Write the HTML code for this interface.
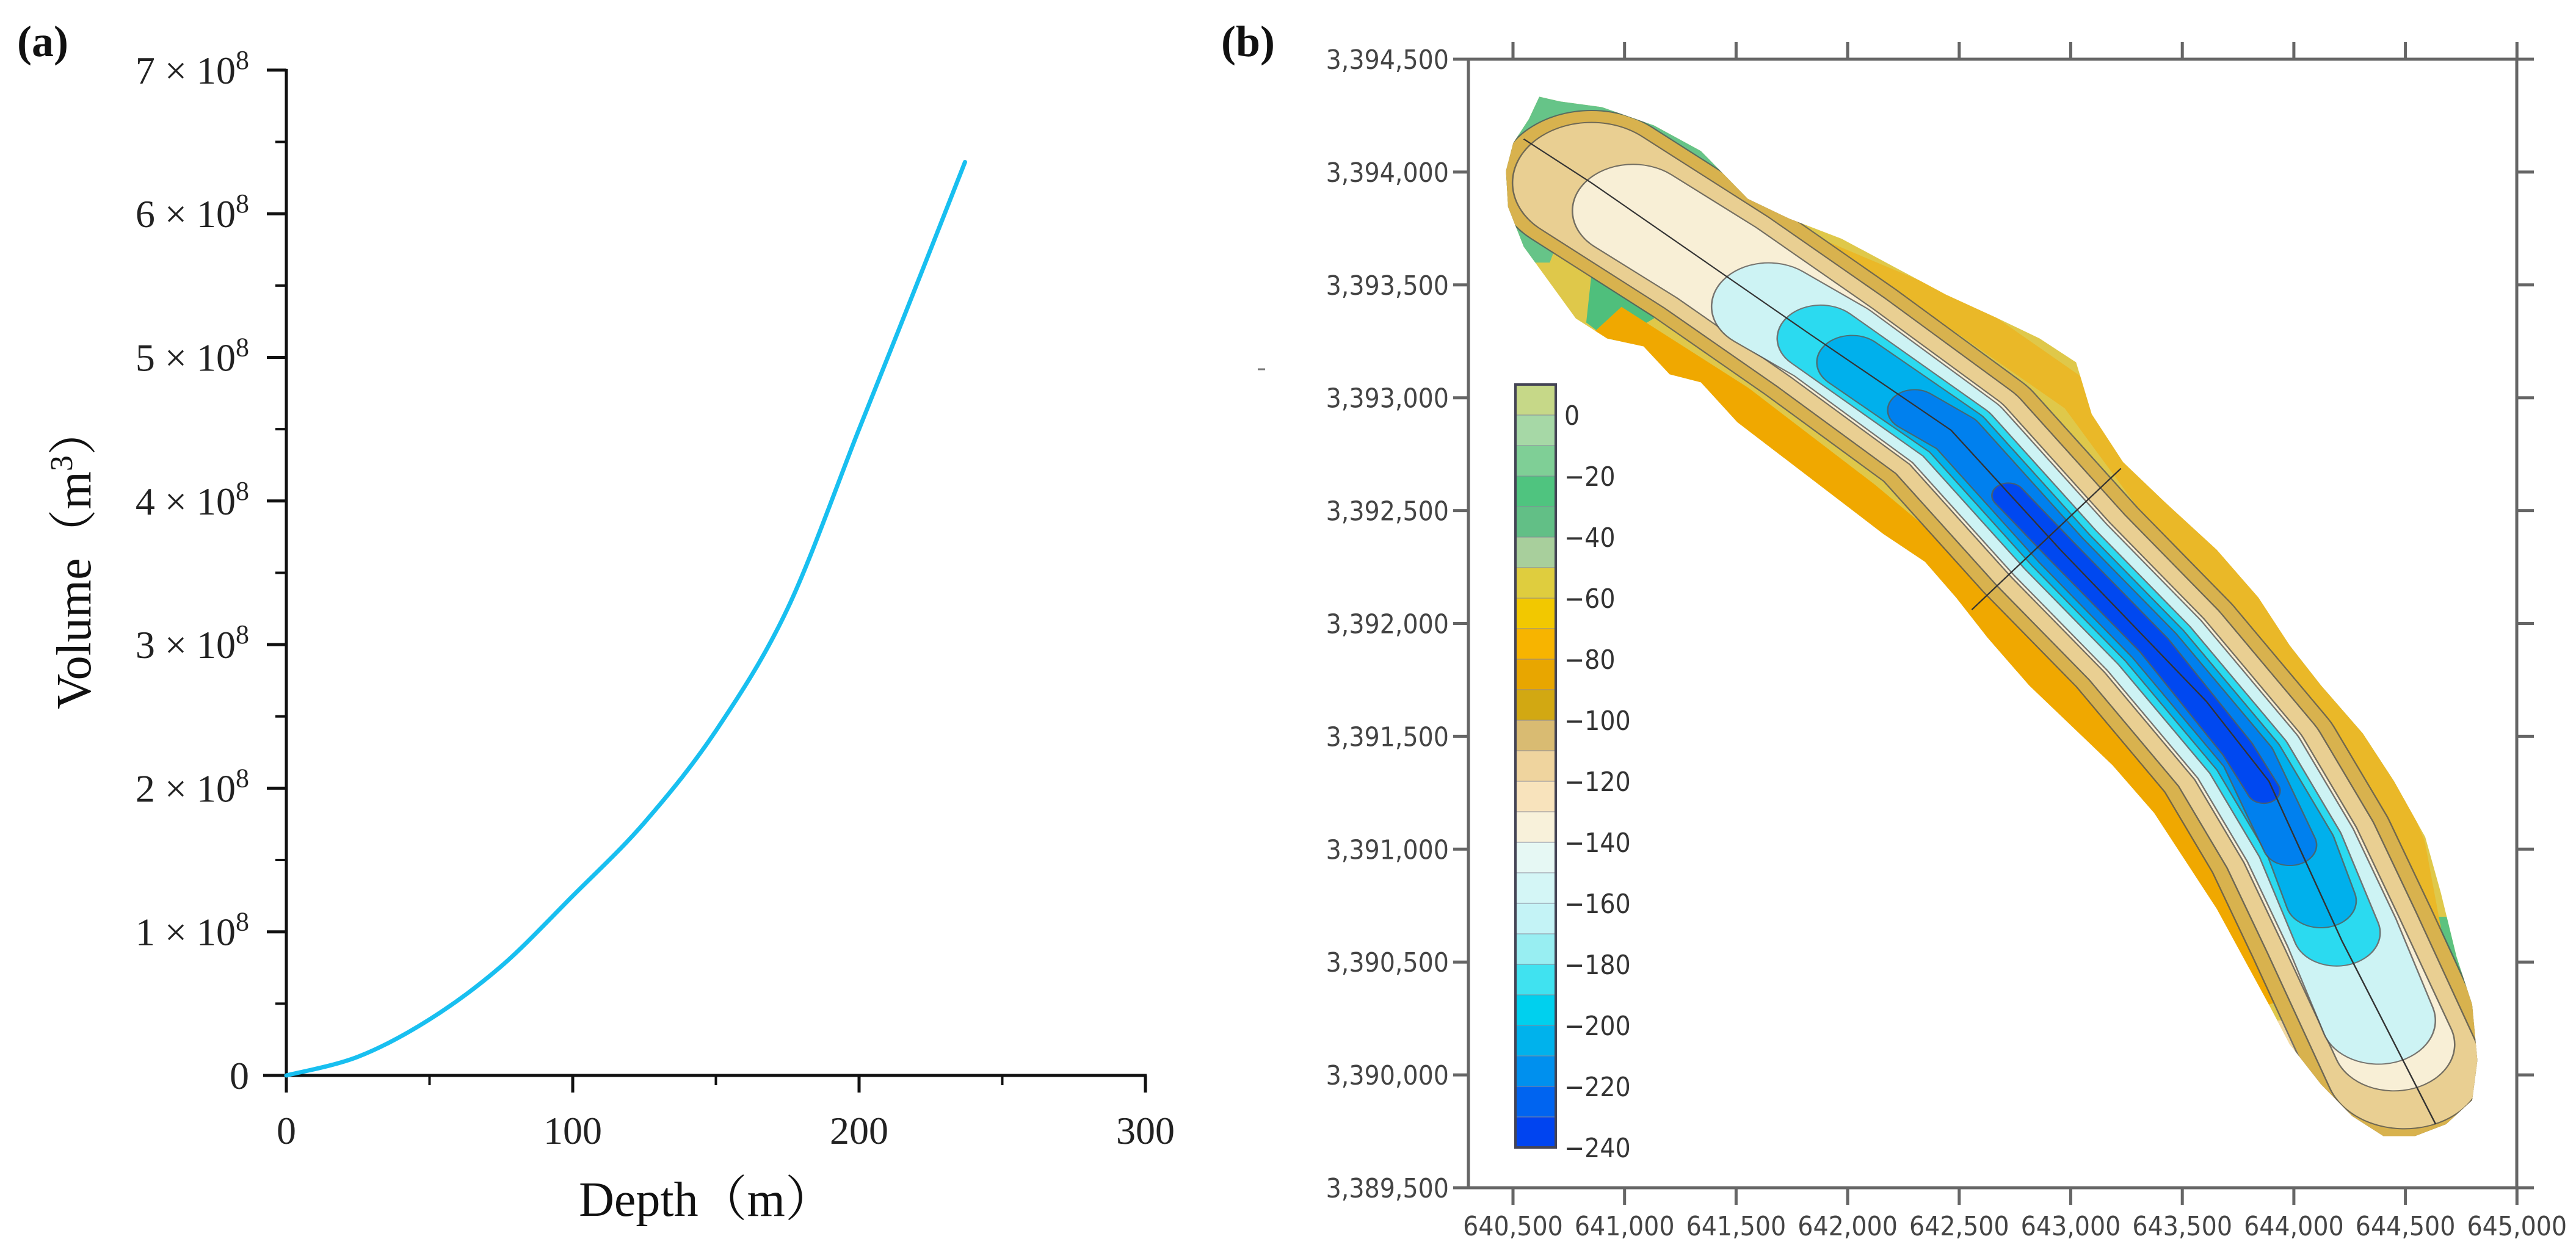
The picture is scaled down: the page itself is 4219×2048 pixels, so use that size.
<!DOCTYPE html>
<html><head><meta charset="utf-8">
<style>
html,body{margin:0;padding:0;background:#fff;}
svg{display:block;}
</style></head>
<body>
<svg id="fig" width="4219" height="2048" viewBox="0 0 4219 2048" xmlns="http://www.w3.org/2000/svg">
<g id="panelA"></g>
<g id="panelB"></g>
</svg>
<script>
// ---------- Panel (a) data ----------
const depthValues = [0, 25, 50, 75, 100, 125, 150, 175, 200, 219, 237];
const volumeValues = [0, 0.13, 0.39, 0.76, 1.25, 1.76, 2.4, 3.25, 4.5, 5.45, 6.36]; // x1e8
const xTickValues = [0, 100, 200, 300];
const yTickValues = [0, 1, 2, 3, 4, 5, 6, 7];

// ---------- Panel (b) data ----------
const northingTicks = [3394500, 3394000, 3393500, 3393000, 3392500, 3392000, 3391500, 3391000, 3390500, 3390000, 3389500];
const eastingTicks = [640500, 641000, 641500, 642000, 642500, 643000, 643500, 644000, 644500, 645000];
const legendLevels = [10, 0, -10, -20, -30, -40, -50, -60, -70, -80, -90, -100, -110, -120, -130, -140, -150, -160, -170, -180, -190, -200, -210, -220, -230];
const legendColors = ["#c6d888","#a6d8a6","#7fcf96","#4fc47f","#62bf86","#a8cf9c","#dfcd3e","#f2c800","#f7b400","#e8a600","#d2a812","#d9bb72","#efd49e","#f8e3bc","#f8f1da","#e6f8f4","#d4f6f6","#c4f3f6","#98eef2","#40e2f0","#00d0ee","#00b2ec","#0090ee","#0064f0","#0044f0"];
const legendLabels = [0, -20, -40, -60, -80, -100, -120, -140, -160, -180, -200, -220, -240];

const NS = "http://www.w3.org/2000/svg";
function mk(tag, attrs, parent, text) {
  const e = document.createElementNS(NS, tag);
  for (const k in attrs) e.setAttribute(k, attrs[k]);
  if (text !== undefined) e.textContent = text;
  parent.appendChild(e);
  return e;
}

// ---------- Panel (a) ----------
(function () {
  const g = document.getElementById('panelA');
  const X0 = 469, PXM = 4.69, Y0 = 1762, PXV = 235.3;
  const xs = d => X0 + d * PXM;
  const ys = v => Y0 - v * PXV;
  const lbl = mk('text', {x: 28, y: 92, 'font-family': 'Liberation Serif, serif', 'font-weight': 'bold', 'font-size': 72, fill: '#111'}, g, '(a)');
  
  
  const ya = mk('line', {x1: X0, y1: ys(7) - 2, x2: X0, y2: Y0 + 2, stroke: '#111', 'stroke-width': 5}, g);
  
  
  const xa = mk('line', {x1: X0 - 38, y1: Y0, x2: xs(300) + 2, y2: Y0, stroke: '#111', 'stroke-width': 5}, g);
  
  
  yTickValues.forEach(v => {
    const t = mk('line', {x1: X0 - 32, y1: ys(v), x2: X0, y2: ys(v), stroke: '#111', 'stroke-width': 5}, g);
    
    
    if (v < 7) {
      const m = mk('line', {x1: X0 - 18, y1: ys(v + 0.5), x2: X0, y2: ys(v + 0.5), stroke: '#111', 'stroke-width': 4}, g);
      
      
    }
    const tx = mk('text', {x: 408, y: ys(v) + 22, 'text-anchor': 'end', 'font-family': 'Liberation Serif, serif', 'font-size': 64, fill: '#222'}, g);
    
    
    if (v === 0) { tx.textContent = '0'; }
    else {
      tx.textContent = v + ' × 10';
      mk('tspan', {dy: -24, 'font-size': 44}, tx, '8');
    }
  });
  xTickValues.forEach(v => {
    const t = mk('line', {x1: xs(v), y1: Y0, x2: xs(v), y2: Y0 + 28, stroke: '#111', 'stroke-width': 5}, g);
    
    
    if (v < 300) {
      const m = mk('line', {x1: xs(v + 50), y1: Y0, x2: xs(v + 50), y2: Y0 + 16, stroke: '#111', 'stroke-width': 4}, g);
      
      
    }
    const tx = mk('text', {x: xs(v), y: Y0 + 112, 'text-anchor': 'middle', 'font-family': 'Liberation Serif, serif', 'font-size': 64, fill: '#222'}, g, String(v));
    
    
  });
  const xt = mk('text', {x: 1157, y: 1992, 'text-anchor': 'middle', 'font-family': 'Liberation Serif, "Noto Serif CJK SC", serif', 'font-size': 80, fill: '#111'}, g, 'Depth（m）');
  
  
  const yt = mk('text', {x: 0, y: 0, transform: 'translate(148,914) rotate(-90)', 'text-anchor': 'middle', 'font-family': 'Liberation Serif, "Noto Serif CJK SC", serif', 'font-size': 80, fill: '#111'}, g, 'Volume（m');
  mk('tspan', {dy: -30, 'font-size': 52}, yt, '3');
  mk('tspan', {dy: 30}, yt, '）');
  
  
  const P = depthValues.map((dv, i) => [xs(dv), ys(volumeValues[i])]);
  let d = 'M' + P[0][0].toFixed(1) + ',' + P[0][1].toFixed(1);
  for (let i = 0; i < P.length - 1; i++) {
    const p0 = P[Math.max(0, i - 1)], p1 = P[i], p2 = P[i + 1], p3 = P[Math.min(P.length - 1, i + 2)];
    const c1 = [p1[0] + (p2[0] - p0[0]) / 6, p1[1] + (p2[1] - p0[1]) / 6];
    const c2 = [p2[0] - (p3[0] - p1[0]) / 6, p2[1] - (p3[1] - p1[1]) / 6];
    d += `C${c1[0].toFixed(1)},${c1[1].toFixed(1)} ${c2[0].toFixed(1)},${c2[1].toFixed(1)} ${p2[0].toFixed(1)},${p2[1].toFixed(1)}`;
  }
  const line = mk('path', {d: d, fill: 'none', stroke: '#18bff0', 'stroke-width': 7, 'stroke-linejoin': 'round', 'stroke-linecap': 'round'}, g);
  
  
})();

// ---------- Panel (b) ----------
(function () {
  const g = document.getElementById('panelB');
  const L = 2405, R = 4122, T = 97, B = 1946;
  const xE = e => L + 73 + (e - 640500) / 500 * 182.7;
  const yN = n => T + (3394500 - n) / 500 * 184.9;
  const lb = mk('text', {x: 2000, y: 92, 'font-family': 'Liberation Serif, serif', 'font-weight': 'bold', 'font-size': 72, fill: '#111'}, g, '(b)');
  
  
  mk('line', {x1: 2060, y1: 605, x2: 2072, y2: 605, stroke: '#777', 'stroke-width': 3}, g);

  const m = mk('g', {transform: 'translate(1514,-1) scale(1.707,1.307)'}, g);
  
  
  const outer = "M590,122 L610,128 L650,135 L700,158 L745,190 L790,250 L830,275 L880,300 L930,335 L980,370 L1030,400 L1070,425 L1105,455 L1120,520 L1150,580 L1190,630 L1240,690 L1280,750 L1310,810 L1340,860 L1380,920 L1410,980 L1440,1050 L1455,1120 L1470,1200 L1485,1260 L1490,1330 L1485,1380 L1460,1410 L1430,1425 L1400,1425 L1370,1400 L1340,1360 L1310,1310 L1290,1260 L1265,1200 L1240,1140 L1210,1080 L1180,1020 L1140,960 L1100,910 L1060,860 L1020,800 L990,750 L960,705 L920,670 L880,630 L830,580 L780,530 L745,480 L715,470 L690,435 L655,425 L625,400 L600,355 L575,310 L560,260 L558,215 L565,180 L580,150 Z";
  mk('path', {d: outer, fill: '#dfc84a'}, m);
  mk('clipPath', {id: 'lakeclip'}, m);
  mk('path', {d: outer}, document.getElementById('lakeclip'));
  const c = mk('g', {'clip-path': 'url(#lakeclip)'}, m);
  mk('path', {d: "M540,110 L760,160 L800,230 L700,250 L620,260 L600,330 L560,330 Z", fill: '#66c488'}, c);
  mk('path', {d: "M640,345 L690,335 L700,400 L660,430 L635,405 Z", fill: '#4fbf7c'}, c);
  mk('path', {d: "M1300,810 L1330,800 L1440,960 L1430,1020 Z", fill: '#8ccc90'}, c);
  mk('path', {d: "M1450,1150 L1500,1150 L1500,1270 L1460,1260 Z", fill: '#5cc27f'}, c);
  mk('path', {d: "M640,420 L760,520 L880,640 L990,760 L1100,910 L1180,1020 L1240,1140 L1290,1260", fill: 'none', stroke: '#f0a800', 'stroke-width': 90, 'stroke-linejoin': 'round'}, c);
  mk('path', {d: "M620,250 L700,300 L800,290 L1000,400 L1110,500 L1200,660 L1300,800 L1380,930 L1420,1060 L1440,1200", fill: 'none', stroke: '#eab828', 'stroke-width': 40, 'stroke-linejoin': 'round'}, c);
  mk('path', {d: "M1100,1280 L1600,1280 L1600,1500 L1100,1500 Z", fill: '#f2d9a2'}, c);
  const core = "M640,230 L760,330 L870,430 L990,545 L1090,690 L1180,810 L1270,950 L1320,1060 L1360,1170 L1420,1340";
  const bands = [
    [core, 180, '#d8b24e'],
    [core, 150, '#e9cf92'],
    ["M680,265 L760,330 L870,430 L990,545 L1090,690 L1180,810 L1270,950 L1320,1060 L1360,1170 L1410,1310", 115, '#f8efd6'],
    ["M810,385 L870,430 L990,545 L1090,690 L1180,810 L1270,950 L1320,1060 L1360,1170 L1395,1280", 108, '#cdf3f4'],
    ["M860,425 L990,545 L1090,690 L1180,810 L1270,950 L1320,1060 L1355,1170", 82, '#2bdaf0'],
    ["M890,455 L990,545 L1090,690 L1180,810 L1270,950 L1320,1060 L1340,1130", 66, '#00b0ec'],
    ["M950,515 L990,545 L1090,690 L1180,810 L1270,950 L1310,1060", 50, '#0080ee'],
    ["M1040,622 L1090,690 L1180,810 L1260,940 L1285,992", 30, '#0048f0']
  ];
  bands.forEach(b => {
    mk('path', {d: b[0], fill: 'none', stroke: '#555', 'stroke-width': b[1] + 3, 'stroke-linecap': 'round', 'stroke-linejoin': 'round', opacity: 0.8}, c);
    mk('path', {d: b[0], fill: 'none', stroke: b[2], 'stroke-width': b[1], 'stroke-linecap': 'round', 'stroke-linejoin': 'round'}, c);
  });
  mk('path', {d: "M575,175 L640,230 L850,420 L985,540 L1090,690 L1230,880 L1290,980 L1360,1180 L1450,1410", fill: 'none', stroke: '#333', 'stroke-width': 1.5}, m);
  mk('path', {d: "M1005,765 L1148,588", fill: 'none', stroke: '#333', 'stroke-width': 1.5}, m);

  const fr = mk('path', {d: `M${L - 25},${T} H${R} V${B} M${L},${T} V${B} M${L - 25},${B} H${R + 28}`, fill: 'none', stroke: '#666', 'stroke-width': 5}, g);
  
  
  northingTicks.forEach(n => {
    const y = yN(n);
    mk('line', {x1: L - 25, y1: y, x2: L, y2: y, stroke: '#666', 'stroke-width': 5}, g);
    mk('line', {x1: R, y1: y, x2: R + 28, y2: y, stroke: '#666', 'stroke-width': 5}, g);
    const t = mk('text', {x: L - 32, y: y + 16, 'text-anchor': 'end', 'font-family': 'DejaVu Sans Condensed, DejaVu Sans, sans-serif', 'font-stretch': 'condensed', 'font-size': 44, fill: '#444'}, g, n.toLocaleString('en-US'));
    
    
  });
  eastingTicks.forEach(e => {
    const x = xE(e);
    mk('line', {x1: x, y1: T - 28, x2: x, y2: T, stroke: '#666', 'stroke-width': 5}, g);
    mk('line', {x1: x, y1: B, x2: x, y2: B + 28, stroke: '#666', 'stroke-width': 5}, g);
    const t = mk('text', {x: x, y: 2024, 'text-anchor': 'middle', 'font-family': 'DejaVu Sans Condensed, DejaVu Sans, sans-serif', 'font-stretch': 'condensed', 'font-size': 44, fill: '#444'}, g, e.toLocaleString('en-US'));
    
    
  });

  const lg = mk('g', {}, g);
  
  
  const CX = 2482, CW = 66, CT = 630, BH = 50;
  legendLevels.forEach((lv, i) => {
    const r = mk('rect', {x: CX, y: CT + i * BH, width: CW, height: BH, fill: legendColors[i], stroke: '#889', 'stroke-width': 1}, lg);
    
    
  });
  mk('rect', {x: CX, y: CT, width: CW, height: BH * legendLevels.length, fill: 'none', stroke: '#445', 'stroke-width': 4}, lg);
  legendLabels.forEach(v => {
    const y = CT + BH + (-v / 10) * BH;
    const t = mk('text', {x: 2562, y: y + 16, 'font-family': 'DejaVu Sans Condensed, DejaVu Sans, sans-serif', 'font-stretch': 'condensed', 'font-size': 44, fill: '#333'}, lg, v === 0 ? '0' : '−' + (-v));
    
    
  });
})();
</script>
</body></html>
